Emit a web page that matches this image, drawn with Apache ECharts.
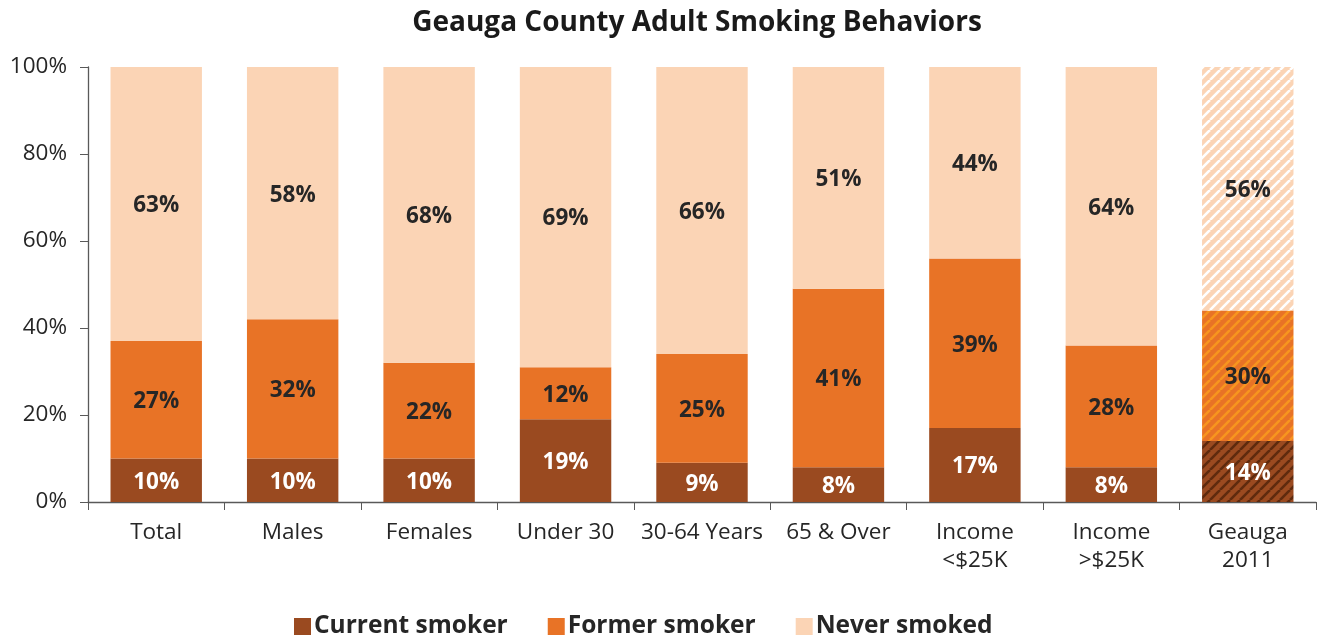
<!DOCTYPE html>
<html>
<head>
<meta charset="utf-8">
<script src="https://cdn.jsdelivr.net/npm/echarts@6/dist/echarts.min.js"></script>
<style>
  html, body { margin: 0; padding: 0; background: #ffffff; }
  #chart { width: 1318px; height: 636px; }
</style>
</head>
<body>
<div id="chart"></div>
<script>
// Categories and shares (percent) for each smoking status
const categories = ['Total', 'Males', 'Females', 'Under 30', '30-64 Years', '65 & Over', 'Income\n<$25K', 'Income\n>$25K', 'Geauga\n2011'];
const currentSmoker = [10, 10, 10, 19, 9, 8, 17, 8, 14];
const formerSmoker  = [27, 32, 22, 12, 25, 41, 39, 28, 30];
const neverSmoked   = [63, 58, 68, 69, 66, 51, 44, 64, 56];
const yTicks = [0, 20, 40, 60, 80, 100];

// Index of the comparison bar drawn with diagonal stripes
const hatchedIndex = 8;

const COLORS = {
  current: '#9a4a20',
  former: '#e87326',
  never: '#fbd4b5'
};

// Diagonal stripe pattern on a small canvas tile
function stripePattern(base, stripe) {
  const size = 10;
  const c = document.createElement('canvas');
  c.width = size; c.height = size;
  const ctx = c.getContext('2d');
  ctx.fillStyle = base;
  ctx.fillRect(0, 0, size, size);
  ctx.strokeStyle = stripe;
  ctx.lineWidth = 2.6;
  ctx.beginPath();
  for (let k = -1; k <= 1; k++) {
    ctx.moveTo(k * size, size);
    ctx.lineTo(k * size + size, 0);
  }
  ctx.stroke();
  return { image: c, repeat: 'repeat' };
}

const hatch = {
  current: stripePattern(COLORS.current, '#5e2a0e'),
  former: stripePattern(COLORS.former, '#f7951f'),
  never: stripePattern(COLORS.never, '#ffffff')
};

function buildData(values, key) {
  return values.map((v, i) => i === hatchedIndex
    ? { value: v, itemStyle: { color: hatch[key] } }
    : v);
}

const FONT = 'Open Sans';

const labelBase = {
  show: true,
  position: 'inside',
  fontFamily: FONT,
  fontWeight: 'bold',
  fontSize: 22.5,
  offset: [0, 2],
  formatter: p => p.value + '%'
};

const chart = echarts.init(document.getElementById('chart'), null, { renderer: 'canvas' });

chart.setOption({
  animation: false,
  title: {
    text: 'Geauga County Adult Smoking Behaviors',
    left: 692,
    textAlign: 'center',
    top: 4,
    textStyle: { fontFamily: FONT, fontWeight: 'bold', fontSize: 28, color: '#1a1a1a' }
  },
  legend: {
    top: 609,
    left: 289,
    itemWidth: 17,
    itemHeight: 17,
    itemGap: 40,
    icon: 'rect',
    textStyle: { fontFamily: FONT, fontWeight: 'bold', fontSize: 24.5, color: '#262626', padding: [0, 0, 0, -2] },
    data: ['Current smoker', 'Former smoker', 'Never smoked']
  },
  grid: { left: 88, right: 2, top: 67, bottom: 134, containLabel: false },
  xAxis: {
    type: 'category',
    data: categories,
    axisLine: { lineStyle: { color: '#595959', width: 1.3 } },
    axisTick: { show: true, alignWithLabel: false, length: 8, lineStyle: { color: '#595959' } },
    axisLabel: { fontFamily: FONT, fontSize: 22.5, color: '#262626', margin: 17, lineHeight: 28, interval: 0 }
  },
  yAxis: {
    type: 'value',
    min: 0,
    max: 100,
    interval: 20,
    axisLine: { show: true, lineStyle: { color: '#595959', width: 1.3 } },
    axisTick: { show: true, length: 8, lineStyle: { color: '#595959' } },
    splitLine: { show: false },
    axisLabel: {
      fontFamily: FONT, fontSize: 22.5, color: '#262626', margin: 21,
      formatter: v => yTicks.includes(v) ? v + '%' : ''
    }
  },
  series: [
    {
      name: 'Current smoker',
      type: 'bar',
      stack: 'total',
      barWidth: '67%',
      itemStyle: { color: COLORS.current },
      label: Object.assign({}, labelBase, { color: '#ffffff' }),
      data: buildData(currentSmoker, 'current')
    },
    {
      name: 'Former smoker',
      type: 'bar',
      stack: 'total',
      barWidth: '67%',
      itemStyle: { color: COLORS.former },
      label: Object.assign({}, labelBase, { color: '#262626' }),
      data: buildData(formerSmoker, 'former')
    },
    {
      name: 'Never smoked',
      type: 'bar',
      stack: 'total',
      barWidth: '67%',
      itemStyle: { color: COLORS.never },
      label: Object.assign({}, labelBase, { color: '#262626' }),
      data: buildData(neverSmoked, 'never')
    }
  ]
});
</script>
</body>
</html>
